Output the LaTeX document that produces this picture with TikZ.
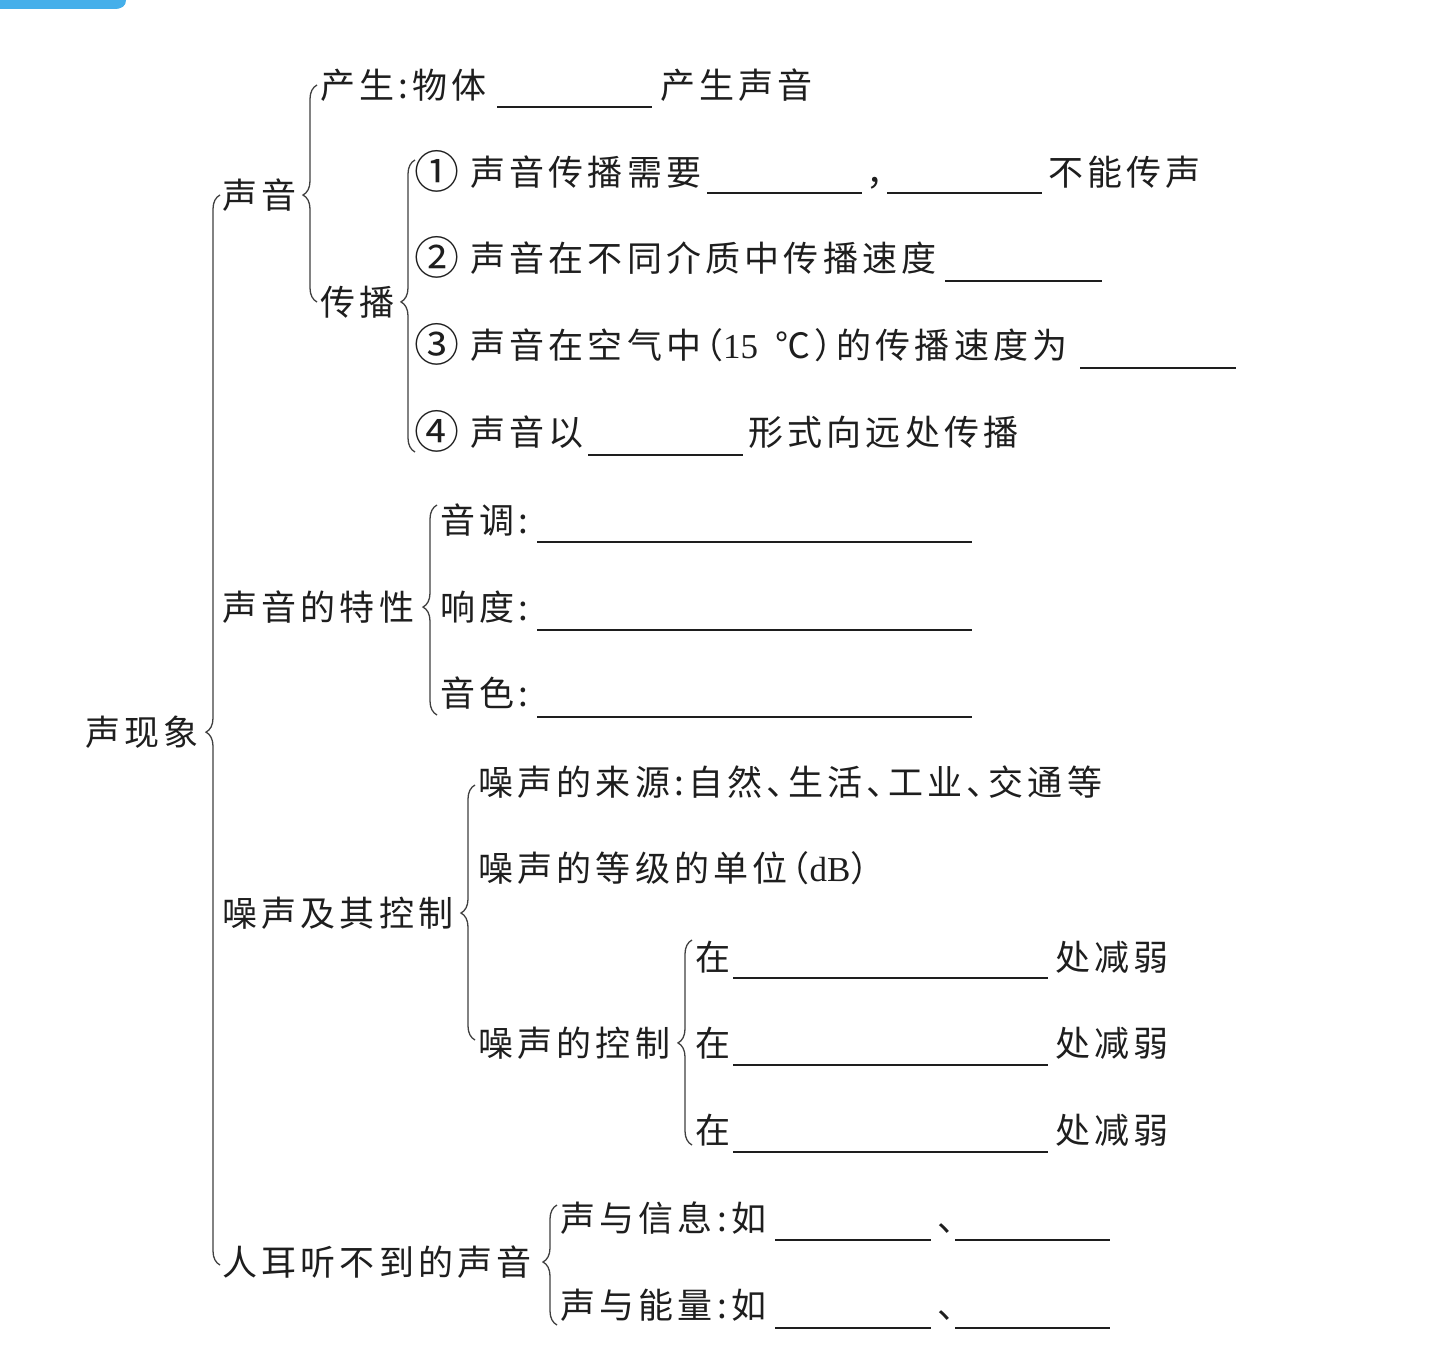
\documentclass[tikz,border=0pt]{standalone}
\usepackage{fontspec}
\usetikzlibrary{decorations.pathreplacing}
\newfontfamily\cjk[LetterSpace=12,CharacterWidth=AlternateHalf]{Noto Sans CJK SC}
\newfontfamily\lat{Liberation Serif}
\definecolor{ink}{HTML}{1E1E1E}
\definecolor{tabblue}{HTML}{45AFEA}
\begin{document}
\begin{tikzpicture}[x=0.5pt,y=-0.5pt,
  txt/.style={anchor=west,inner sep=0pt,text=ink,font=\cjk\fontsize{17.5pt}{20pt}\selectfont,text height=15.4pt,text depth=2.1pt},
  num/.style={txt,font=\cjk\fontsize{22.5pt}{24pt}\selectfont},
  blank/.style={draw=ink,line width=0.9pt},
  brc/.style={draw=ink!85,line width=0.65pt,decorate,decoration={brace,amplitude=7pt,aspect=#1}}]
\useasboundingbox[fill=white] (0,0) rectangle (1439,1364);
\fill[tabblue] (0,0) -- (126,0) .. controls (126,6) and (122,9) .. (114,9) -- (0,9) -- cycle;

% level 0
\node[txt] (root) at (85,732) {声现象};
\draw[brc=0.498] (220,1265) -- (220,195);

% 声音
\node[txt] (sy) at (222,195) {声音};
\draw[brc=0.493] (317,302) -- (317,85);
\node[txt] (cs) at (320,85) {产生:物体};
\draw[blank] (497,107) -- (652,107);
\node[txt] (cs2) at (660,85) {产生声音};

\node[txt] (cb) at (320,302) {传播};
\draw[brc=0.514] (415,452) -- (415,160);
\node[num] (n1) at (414,175) {①};
\node[txt] (t1) at (470,172) {声音传播需要};
\draw[blank] (707,193) -- (862,193);
\node[txt] (t1b) at (866,172) {，};
\draw[blank] (887,193) -- (1042,193);
\node[txt] (t1c) at (1048,172) {不能传声};

\node[num] (n2) at (414,261) {②};
\node[txt] (t2) at (470,258) {声音在不同介质中传播速度};
\draw[blank] (945,281) -- (1102,281);

\node[num] (n3) at (414,348) {③};
\node[txt] (t3) at (470,345) {声音在空气中（{\lat 15}\enspace ℃）的传播速度为};
\draw[blank] (1080,368) -- (1236,368);

\node[num] (n4) at (414,435) {④};
\node[txt] (t4) at (470,432) {声音以};
\draw[blank] (588,455) -- (743,455);
\node[txt] (t4b) at (748,432) {形式向远处传播};

% 声音的特性
\node[txt] (tx) at (222,607) {声音的特性};
\draw[brc=0.514] (437,715) -- (437,505);
\node[txt] (yd) at (440,520) {音调:};
\draw[blank] (537,542) -- (972,542);
\node[txt] (xd) at (440,607) {响度:};
\draw[blank] (537,630) -- (972,630);
\node[txt] (ys) at (440,693) {音色:};
\draw[blank] (537,717) -- (972,717);

% 噪声及其控制
\node[txt] (zs) at (222,913) {噪声及其控制};
\draw[brc=0.498] (475,1040) -- (475,785);
\node[txt] (ly) at (478,782) {噪声的来源:自然、生活、工业、交通等};
\node[txt] (dj) at (478,868) {噪声的等级的单位（{\lat dB}）};
\node[txt] (kz) at (478,1043) {噪声的控制};
\draw[brc=0.498] (692,1145) -- (692,940);
\node[txt] (z1) at (695,957) {在};
\draw[blank] (733,978) -- (1048,978);
\node[txt] (z1b) at (1055,957) {处减弱};
\node[txt] (z2) at (695,1043) {在};
\draw[blank] (733,1065) -- (1048,1065);
\node[txt] (z2b) at (1055,1043) {处减弱};
\node[txt] (z3) at (695,1130) {在};
\draw[blank] (733,1152) -- (1048,1152);
\node[txt] (z3b) at (1055,1130) {处减弱};

% 人耳听不到的声音
\node[txt] (re) at (222,1262) {人耳听不到的声音};
\draw[brc=0.525] (557,1325) -- (557,1205);
\node[txt] (xx) at (560,1218) {声与信息:如};
\draw[blank] (775,1240) -- (931,1240);
\node[txt] (xx2) at (937,1218) {、};
\draw[blank] (955,1240) -- (1110,1240);
\node[txt] (nl) at (560,1305) {声与能量:如};
\draw[blank] (775,1328) -- (931,1328);
\node[txt] (nl2) at (937,1305) {、};
\draw[blank] (955,1328) -- (1110,1328);
\end{tikzpicture}
\end{document}
